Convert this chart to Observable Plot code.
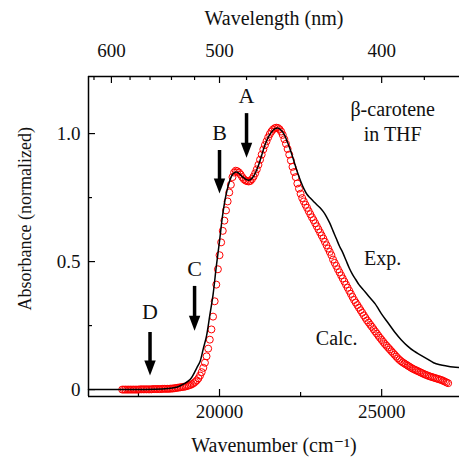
<!DOCTYPE html>
<html>
<head>
<meta charset="utf-8">
<script src="https://cdn.jsdelivr.net/npm/d3@7"></script>
<script src="https://cdn.jsdelivr.net/npm/@observablehq/plot@0.6"></script>
<style>
  html, body { margin: 0; padding: 0; background: #fff; }
  svg, svg text { font-family: "Liberation Serif", "Times New Roman", "DejaVu Serif", serif !important; }
</style>
</head>
<body>
<div id="chart"></div>
<script>
// Experimental spectrum (black line): wavenumber (cm-1) and normalized absorbance
const expWn = [15960, 17000, 18000, 18400, 18700, 18900, 19100, 19300, 19400, 19500, 19600, 19700, 19800, 19900,
  20000, 20100, 20200, 20300, 20400, 20500, 20600, 20700, 20800, 20900, 21000, 21100, 21200, 21300, 21400, 21500,
  21600, 21700, 21800, 21900, 22000, 22100, 22200, 22300, 22400, 22500, 22600, 22700, 22800, 22900, 23000, 23100,
  23200, 23300, 23400, 23500, 23600, 23700, 23800, 23900, 24000, 24100, 24200, 24300, 24400, 24500, 24600, 24700,
  24800, 24900, 25000, 25200, 25400, 25600, 25800, 26000, 26200, 26400, 26600, 26800, 27000, 27200, 27400];
const expAbs = [0, 0, 0.001, 0.004, 0.01, 0.022, 0.04, 0.085, 0.11, 0.16, 0.21, 0.29, 0.37, 0.48,
  0.58, 0.685, 0.76, 0.81, 0.84, 0.85, 0.845, 0.832, 0.822, 0.818, 0.825, 0.845, 0.875, 0.915, 0.955, 0.985,
  1.005, 1.018, 1.022, 1.013, 0.995, 0.965, 0.93, 0.89, 0.85, 0.815, 0.785, 0.762, 0.748, 0.735, 0.722, 0.71,
  0.695, 0.675, 0.65, 0.62, 0.59, 0.56, 0.535, 0.505, 0.475, 0.45, 0.43, 0.41, 0.395, 0.38, 0.365, 0.35,
  0.335, 0.315, 0.295, 0.26, 0.225, 0.195, 0.17, 0.15, 0.135, 0.12, 0.105, 0.097, 0.092, 0.088, 0.086];

// Calculated spectrum (red circles), sampled every 50 cm-1 starting at 17000 cm-1
const calcStart = 17000;
const calcStep = 50;
const calcAbs = [
  0, 0, 0, 0, 0, 0, 0, 0, 0, 0, 0,
  0.001, 0.001, 0.001, 0.001, 0.001, 0.001, 0.001, 0.001,
  0.002, 0.002, 0.002, 0.002, 0.002, 0.002,
  0.003, 0.003, 0.003, 0.003, 0.003,
  0.004, 0.004, 0.005, 0.006, 0.007, 0.008, 0.009, 0.010, 0.011, 0.012,
  0.014, 0.016, 0.018, 0.021, 0.025, 0.030, 0.036, 0.044, 0.055, 0.068,
  0.085, 0.105, 0.13, 0.16, 0.195, 0.235, 0.285, 0.345, 0.41, 0.47,
  0.525, 0.575, 0.62, 0.66, 0.70, 0.735, 0.77, 0.80, 0.83, 0.848,
  0.855, 0.853, 0.848, 0.84, 0.83, 0.822, 0.817, 0.814, 0.813, 0.815,
  0.822, 0.832, 0.845, 0.86, 0.878, 0.898, 0.918, 0.938, 0.955, 0.97,
  0.985, 0.998, 1.008, 1.016, 1.021, 1.023, 1.022, 1.017, 1.008, 0.995,
  0.978, 0.96, 0.94, 0.918, 0.895, 0.87, 0.85, 0.83, 0.805, 0.785,
  0.765, 0.748, 0.735, 0.722, 0.71, 0.697, 0.685, 0.673, 0.662, 0.65,
  0.638, 0.626, 0.614, 0.602, 0.59, 0.577, 0.564, 0.551, 0.538, 0.525,
  0.508, 0.495, 0.483, 0.47, 0.458, 0.446, 0.434, 0.422, 0.41, 0.398,
  0.386, 0.374, 0.362, 0.35, 0.34, 0.33, 0.32, 0.31, 0.30, 0.29,
  0.28, 0.27, 0.262, 0.253, 0.245, 0.236, 0.227, 0.219, 0.21, 0.202,
  0.194, 0.186, 0.178, 0.171, 0.164, 0.157, 0.15, 0.143, 0.136, 0.129,
  0.122, 0.116, 0.111, 0.106, 0.102, 0.098, 0.094, 0.09, 0.086, 0.082,
  0.079, 0.076, 0.073, 0.07, 0.067, 0.064, 0.061, 0.058, 0.056, 0.053,
  0.051, 0.049, 0.047, 0.045, 0.043, 0.041, 0.039, 0.037, 0.034, 0.031,
  0.028, 0.025];

// Excitation arrows (wavelength in nm, top and tip absorbance, label position)
const arrowNames = ["A", "B", "C", "D"];
const arrowNm = [480, 500, 520, 560];
const arrowTop = [1.078, 0.934, 0.403, 0.223];
const arrowTip = [0.906, 0.766, 0.23, 0.055];
const arrowLabelY = [1.148, 1.002, 0.471, 0.305];

// Axis ticks
const xMajor = [20000, 25000];
const xMinor = [17500, 22500];
const yMajor = [0, 0.5, 1.0];
const yMinor = [0.25, 0.75];
const nmMajor = [600, 500, 400];
const nmMinor = [620, 580, 560, 540, 520, 480, 460, 440, 420, 380];

const xDomain = [15960, 27400];
const yDomain = [-0.027, 1.223];

// Build tables
const expData = expWn.map((w, i) => ({wn: w, abs: expAbs[i]}));
const calcData = calcAbs.map((a, i) => ({wn: calcStart + i * calcStep, abs: a}));
const arrows = arrowNames.map((n, i) => ({name: n, wn: 1e7 / arrowNm[i], top: arrowTop[i], tip: arrowTip[i], ly: arrowLabelY[i]}));

const W = 459, H = 459;
const mTop = 76, mRight = 0, mBottom = 63, mLeft = 88;
const innerW = W - mLeft - mRight, innerH = H - mTop - mBottom;
const serif = "Liberation Serif, Times New Roman, DejaVu Serif, serif";

const headDown = {
  draw(context, size) {
    const r = Math.sqrt(size / Math.PI);
    const w = r * 0.95, h = r * 2.5;
    context.moveTo(0, 0);
    context.lineTo(-w, -h);
    context.lineTo(w, -h);
    context.closePath();
  }
};

const chart = Plot.plot({
  width: W,
  height: H,
  marginTop: mTop,
  marginRight: mRight,
  marginBottom: mBottom,
  marginLeft: mLeft,
  style: {fontFamily: serif, fontSize: "19px", color: "#111", background: "#fff"},
  x: {domain: xDomain, axis: null},
  y: {domain: yDomain, axis: null},
  marks: [
    // frame lines (left, bottom, top)
    Plot.ruleX([xDomain[0]], {stroke: "#000", strokeWidth: 1.5}),
    Plot.ruleY([yDomain[0], yDomain[1]], {stroke: "#000", strokeWidth: 1.5}),
    // inward ticks
    Plot.ruleX(xMajor, {stroke: "#000", strokeWidth: 1.2, insetTop: innerH - 7}),
    Plot.ruleX(xMinor, {stroke: "#000", strokeWidth: 1.2, insetTop: innerH - 4}),
    Plot.ruleX(nmMajor.map(l => 1e7 / l), {stroke: "#000", strokeWidth: 1.2, insetBottom: innerH - 7}),
    Plot.ruleX(nmMinor.map(l => 1e7 / l), {stroke: "#000", strokeWidth: 1.2, insetBottom: innerH - 4}),
    Plot.ruleY(yMajor, {stroke: "#000", strokeWidth: 1.2, insetRight: innerW - 7}),
    Plot.ruleY(yMinor, {stroke: "#000", strokeWidth: 1.2, insetRight: innerW - 4}),
    // tick labels
    Plot.axisX(xMajor, {anchor: "bottom", tickSize: 0, tickPadding: 8, tickFormat: "d", label: null}),
    Plot.axisX(nmMajor.map(l => 1e7 / l), {anchor: "top", tickSize: 0, tickPadding: 20, tickFormat: d => String(Math.round(1e7 / d)), label: null}),
    Plot.axisY(yMajor, {anchor: "left", tickSize: 0, tickPadding: 8, tickFormat: d => d === 0 ? "0" : d.toFixed(1), label: null}),
    // axis titles
    Plot.text(["Wavelength (nm)"], {frameAnchor: "top", dy: -58, lineAnchor: "middle", textAnchor: "middle", fontSize: 20, fill: "#111"}),
    Plot.text(["Wavenumber (cm\u207B\u00B9)"], {frameAnchor: "bottom", dy: 49, lineAnchor: "middle", textAnchor: "middle", fontSize: 20, fill: "#111"}),
    Plot.text(["Absorbance (normalized)"], {frameAnchor: "left", dx: -63, dy: 74, rotate: -90, lineAnchor: "middle", textAnchor: "start", fontSize: 18, fill: "#111"}),
    // data
    Plot.dot(calcData, {x: "wn", y: "abs", r: 3.5, stroke: "#ff0000", strokeWidth: 1, fill: "none"}),
    Plot.line(expData, {x: "wn", y: "abs", stroke: "#000", strokeWidth: 1.5, curve: "catmull-rom"}),
    // arrows
    Plot.ruleX(arrows, {x: "wn", y1: "top", y2: "tip", stroke: "#000", strokeWidth: 3.5, insetBottom: 10}),
    Plot.dot(arrows, {x: "wn", y: "tip", r: 6, symbol: headDown, fill: "#000", stroke: "none"}),
    Plot.text(arrows, {x: "wn", y: "ly", text: "name", fontSize: 22, fill: "#111"}),
    // annotations
    Plot.text(["\u03B2-carotene\nin THF"], {x: [25340], y: [1.05], fontSize: 20, lineHeight: 1.25, fill: "#111"}),
    Plot.text(["Exp."], {x: [25031], y: [0.512], fontSize: 20, fill: "#111"}),
    Plot.text(["Calc."], {x: [23611], y: [0.2], fontSize: 20, fill: "#111"})
  ]
});

document.getElementById("chart").appendChild(chart);
</script>
</body>
</html>
